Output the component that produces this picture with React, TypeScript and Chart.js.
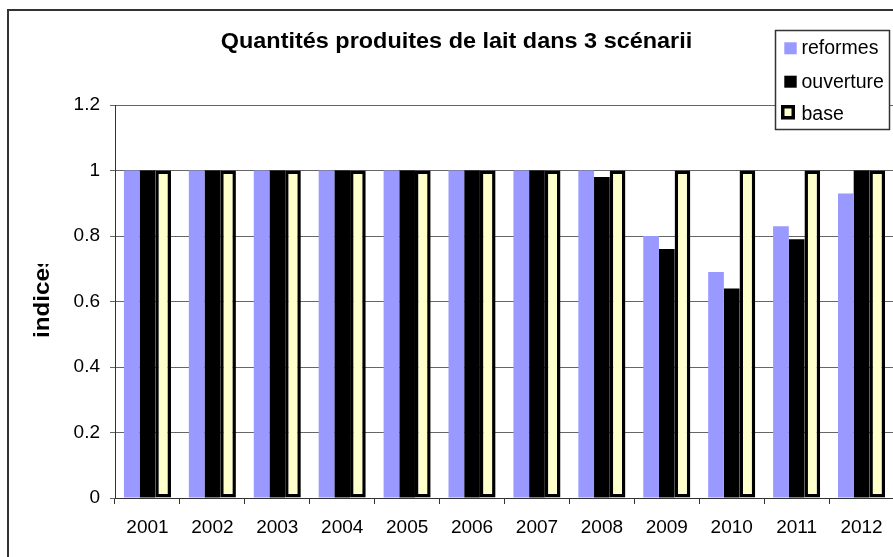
import React, { useEffect, useRef } from "react";
import { Chart, registerables } from "chart.js";

Chart.register(...registerables);

const categories = ["2001", "2002", "2003", "2004", "2005", "2006", "2007", "2008", "2009", "2010", "2011", "2012"];
const reformes = [1, 1, 1, 1, 1, 1, 1, 1, 0.8, 0.69, 0.83, 0.93];
const ouverture = [1, 1, 1, 1, 1, 1, 1, 0.98, 0.76, 0.64, 0.79, 1.0];
const base = [1, 1, 1, 1, 1, 1, 1, 1, 1, 1, 1, 1];
const seriesNames = ["reformes", "ouverture", "base"];
const yMin = 0;
const yMax = 1.2;
const yStep = 0.2;
const titleText = "Quantités produites de lait dans 3 scénarii";
const yTitleText = "indices";

const FONT = "'Liberation Sans', Arial, sans-serif";
const C_REF = "#9999FF";
const C_OUV = "#000000";
const C_BASE = "#FFFFCC";

const decorPlugin = {
  id: "decor",
  afterDraw(chart: any) {
    const ctx = chart.ctx as CanvasRenderingContext2D;
    ctx.save();
    // outer chart border
    ctx.strokeStyle = "#333333";
    ctx.lineWidth = 2;
    ctx.beginPath();
    ctx.moveTo(8, 557);
    ctx.lineTo(8, 10);
    ctx.lineTo(900, 10);
    ctx.stroke();

    // title
    ctx.fillStyle = "#000";
    ctx.font = `bold 21.5px ${FONT}`;
    ctx.textAlign = "center";
    ctx.textBaseline = "alphabetic";
    ctx.save();
    ctx.translate(456.5, 48);
    ctx.scale(1.09, 1);
    ctx.fillText(titleText, 0, 0);
    ctx.restore();

    // y axis title (clipped like the reference)
    ctx.save();
    ctx.beginPath();
    ctx.rect(0, 264, 110, 200);
    ctx.clip();
    ctx.translate(49, 338);
    ctx.rotate(-Math.PI / 2);
    ctx.scale(1.1, 1);
    ctx.font = `bold 22px ${FONT}`;
    ctx.textAlign = "left";
    ctx.textBaseline = "alphabetic";
    ctx.fillText(yTitleText, 0, 0);
    ctx.restore();

    // legend
    ctx.fillStyle = "#fff";
    ctx.fillRect(775.5, 30.5, 114, 99);
    ctx.strokeStyle = "#333333";
    ctx.lineWidth = 1.5;
    ctx.strokeRect(775.5, 30.5, 114, 99);
    const baselines = [54.3, 87.7, 120];
    ctx.font = `19.5px ${FONT}`;
    ctx.textAlign = "left";
    ctx.textBaseline = "alphabetic";
    // swatches
    ctx.fillStyle = C_REF;
    ctx.fillRect(784.3, baselines[0] - 12, 12.4, 12);
    ctx.fillStyle = C_OUV;
    ctx.fillRect(784.3, baselines[1] - 12, 12.4, 12);
    ctx.fillStyle = "#000";
    ctx.fillRect(781, baselines[2] - 15, 14, 14.5);
    ctx.fillStyle = C_BASE;
    ctx.fillRect(784.5, baselines[2] - 11.5, 7, 7.5);
    ctx.fillStyle = "#000";
    seriesNames.forEach((n, i) => {
      ctx.fillText(n, 801.5, baselines[i]);
    });
    ctx.restore();
  },
};

export default function App() {
  const canvasRef = useRef<HTMLCanvasElement | null>(null);

  useEffect(() => {
    const canvas = canvasRef.current;
    if (!canvas) return;
    const chart = new Chart(canvas, {
      type: "bar",
      data: {
        labels: categories,
        datasets: [
          {
            label: seriesNames[0],
            data: reformes,
            backgroundColor: C_REF,
            borderWidth: 0,
          },
          {
            label: seriesNames[1],
            data: ouverture,
            backgroundColor: C_OUV,
            borderWidth: 0,
          },
          {
            label: seriesNames[2],
            data: base,
            backgroundColor: C_BASE,
            borderColor: "#000000",
            borderWidth: 3.5,
            borderSkipped: false,
          },
        ],
      },
      options: {
        responsive: false,
        animation: false,
        devicePixelRatio: 1,
        layout: { padding: { top: 105, right: 6, left: 0, bottom: 0 } },
        datasets: {
          bar: { categoryPercentage: 0.725, barPercentage: 1.0 },
        },
        plugins: {
          legend: { display: false },
          title: { display: false },
          tooltip: { enabled: false },
        },
        scales: {
          x: {
            afterFit: (scale: any) => {
              scale.height = 59;
            },
            grid: {
              display: true,
              drawOnChartArea: false,
              drawTicks: true,
              tickLength: 6,
              color: "#333333",
              offset: true,
            },
            border: { display: true, color: "#333333", width: 1 },
            ticks: {
              color: "#000",
              font: { family: FONT, size: 19 },
              padding: 12,
              maxRotation: 0,
              autoSkip: false,
            },
          },
          y: {
            min: yMin,
            max: yMax,
            afterFit: (scale: any) => {
              scale.width = 115;
            },
            grid: {
              color: "#666666",
              lineWidth: 1,
              drawTicks: true,
              tickLength: 5,
            },
            border: { display: true, color: "#333333", width: 1 },
            ticks: {
              stepSize: yStep,
              color: "#000",
              font: { family: FONT, size: 19 },
              padding: 10,
              callback: (v: any) => String(Number(Number(v).toFixed(1))),
            },
          },
        },
      },
      plugins: [decorPlugin],
    });
    return () => chart.destroy();
  }, []);

  return (
    <div
      style={{
        position: "absolute",
        left: 0,
        top: 0,
        width: 893,
        height: 557,
        overflow: "hidden",
        background: "#fff",
      }}
    >
      <canvas ref={canvasRef} width={900} height={557} style={{ display: "block", width: 900, height: 557 }} />
    </div>
  );
}
